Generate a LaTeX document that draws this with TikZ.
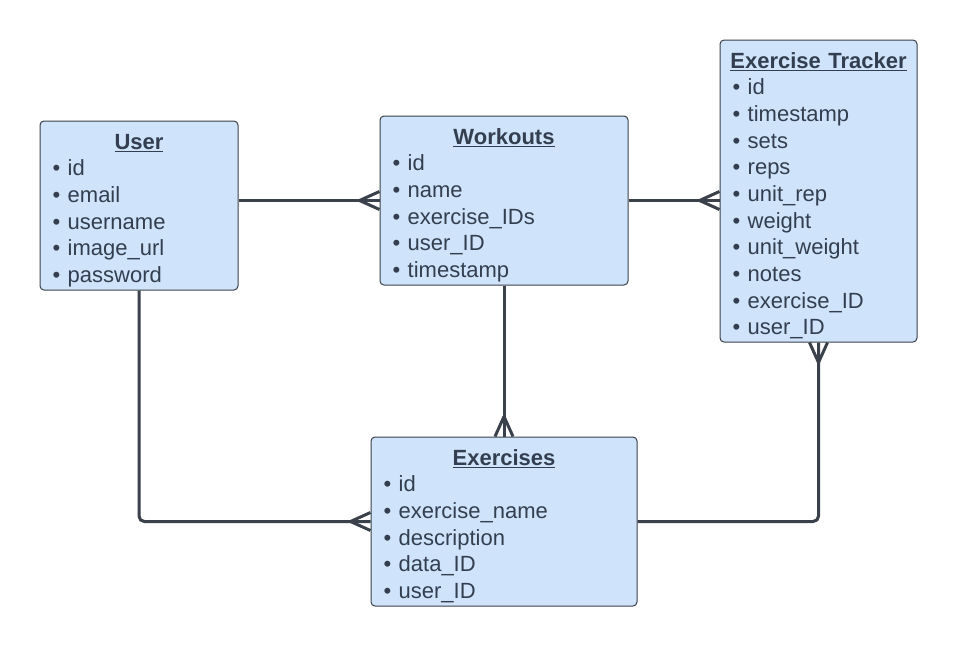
\documentclass[tikz,border=0pt]{standalone}
\usepackage{fontspec}
\setmainfont{Liberation Sans}
\usetikzlibrary{calc}
\definecolor{entfill}{HTML}{CFE3FA}
\definecolor{entline}{HTML}{3A414A}
\definecolor{enttext}{HTML}{333F50}
\newcommand{\entite}[1]{\rule{0pt}{19pt}\makebox[\linewidth][c]{\textbf{\underline{#1}}}}
\tikzset{
  entbox/.style={rectangle, rounded corners=3pt, draw=entline, line width=0.75pt, fill=entfill,
                 text=enttext, align=left, font=\fontsize{16.5pt}{20pt}\selectfont,
                 inner xsep=9.5pt, inner ysep=0pt, minimum height=126.75pt},
  rel/.style={line width=2.25pt, draw=entline, rounded corners=4pt},
  crowfoot/.pic={\draw[line width=2.25pt, draw=entline] (-20,0) -- (0,9) (-20,0) -- (0,-9);},
}

\begin{document}
\begin{tikzpicture}[x=0.75pt, y=-0.75pt]
  \useasboundingbox (0,0) rectangle (958,647);
  \node[entbox, text width=129.5pt] (user) at (139,205.5)
    {\entite{User}\\ • id\\ • email\\ • username\\ • image\_url\\ • password};
  \node[entbox, text width=167pt] (workouts) at (504,200.5)
    {\entite{Workouts}\\ • id\\ • name\\ • exercise\_IDs\\ • user\_ID\\ • timestamp};
  \node[entbox, text width=128.75pt, minimum height=226.5pt] (tracker) at (818.5,191)
    {\entite{Exercise Tracker}\\ • id\\ • timestamp\\ • sets\\ • reps\\ • unit\_rep\\ • weight\\
     • unit\_weight\\ • notes\\ • exercise\_ID\\ • user\_ID};
  \node[entbox, text width=180.5pt] (exercises) at (504,521.5)
    {\entite{Exercises}\\ • id\\ • exercise\_name\\ • description\\ • data\_ID\\ • user\_ID};

  % relations
  \draw[rel] (user.east |- workouts.west) -- (workouts.west);
  \pic at (workouts.west) {crowfoot};
  \draw[rel] (workouts.east) -- (tracker.west |- workouts.east);
  \pic at (tracker.west |- workouts.east) {crowfoot};
  \draw[rel] (workouts.south) -- (exercises.north);
  \pic[rotate=-90] at (exercises.north) {crowfoot};
  \draw[rel] (user.south) |- (exercises.west);
  \pic at (exercises.west) {crowfoot};
  \draw[rel] (exercises.east) -| (tracker.south);
  \pic[rotate=90] at (tracker.south) {crowfoot};
\end{tikzpicture}
\end{document}
